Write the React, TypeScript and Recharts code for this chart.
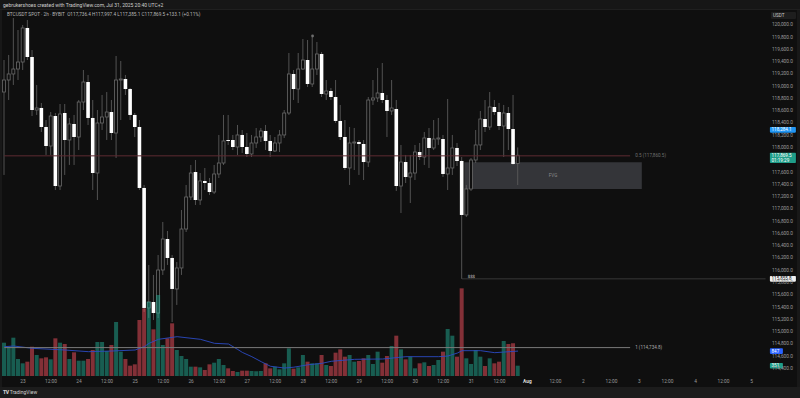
import React from 'react';
import {
  ComposedChart, Bar, Line, XAxis, YAxis, ReferenceLine, ReferenceArea, ReferenceDot, Cell,
} from 'recharts';

// ---- Data (BTCUSDT 2h, first candle Jul 22 16:00) ----
const opens = [
  118901,119097,119195,119276,119390,119945,119472,118608,118641,118331,
  118021,118510,117369,118559,118119,118380,118168,118738,119064,118478,
  117581,118396,118494,118575,118233,119097,119113,118950,118527,118331,
  117337,115381,115478,115299,116000,116505,116196,115691,116033,116668,
  117190,117597,117141,117451,117418,117271,117565,117744,118119,118119,
  118005,118201,118005,117891,118070,118168,118266,118103,117940,118070,
  118201,118559,119195,118950,119276,119423,119032,119276,119521,118869,
  118918,118820,118429,118168,117663,118070,118086,118054,117760,118771,
  118804,118885,118771,118592,118624,117369,117760,117516,117581,117923,
  117842,118152,117989,118135,118135,117565,117663,117989,117777,116897,
  117320,117793,118038,118461,118331,118657,118575,118347,118559,118298,
  117736.4,
];
const closes = [
  119097,119195,119276,119390,119945,119472,118608,118641,118331,118021,
  118510,117369,118543,118119,118380,118168,118738,119064,118478,117581,
  118396,118494,118575,118233,119097,119113,118950,118527,118331,117337,
  115381,115478,115299,116000,116505,116196,115691,116033,116668,117190,
  117581,117141,117451,117418,117271,117565,117744,118103,118103,118005,
  118201,118005,117891,118070,118168,118266,118103,117940,118070,118201,
  118559,119195,118950,119276,119423,119032,119276,119521,118869,118918,
  118820,118429,118168,117663,118070,118086,118054,117760,118771,118804,
  118885,118771,118592,118641,117369,117760,117516,117581,117923,117842,
  118152,117989,118135,118152,117565,117663,117989,117777,116897,117320,
  117793,118038,118461,118331,118657,118575,118347,118559,118298,117728,
  117869.5,
];
const highs = [
  119423,119505,120108,119912,119994,120075,119586,119016,118722,118445,
  118575,118559,118706,118706,118478,118527,118771,119260,119179,118771,
  118608,118853,118901,118771,119488,119407,119179,118967,118559,118445,
  117386,116082,115919,116244,116783,116636,116244,116130,116978,117386,
  117712,117793,117581,117663,117500,117712,118201,118527,118527,118201,
  118364,118282,118233,118201,118315,118315,118364,118201,118168,118282,
  118608,119537,119260,119537,119765,119749,119798,119716,119553,119097,
  118967,119097,118690,118445,118331,118315,118119,118119,118820,119097,
  119293,119374,118853,119097,118771,118038,117875,117875,118038,118070,
  118249,118315,118445,118478,118201,118787,118201,118070,117842,117386,
  117826,118282,118592,118771,118901,118771,118722,118690,118657,118853,
  117997.4,
];
const lows = [
  117549,118771,119016,119097,119260,119423,118510,118527,118249,117875,
  117875,117304,117304,117549,117712,117712,117956,118608,118364,117304,
  117141,118282,118119,118119,117826,118445,118853,118445,118168,117304,
  115316,115218,115185,115218,115919,116082,115152,115430,115919,116619,
  117141,117060,117060,117304,117223,117239,117500,117712,118038,117956,
  117875,117907,117842,117842,117989,118086,117956,117842,117923,117923,
  118152,118527,118771,118722,119260,118983,118983,119179,118820,118771,
  118771,118396,118119,117630,117386,117630,117549,117467,117679,118690,
  118738,118722,118168,118527,117288,116929,117418,117092,117467,117793,
  117712,117663,117956,118038,117516,117304,117549,117695,115855.8,116864,
  117288,117744,117956,118249,118282,118527,118282,117842,117956,117712,
  117385.1,
];
const volumes = [
  1133,997,1303,578,431,487,997,714,601,635,
  567,1281,1133,1088,578,805,521,521,578,884,
  1156,1156,850,1054,1836,827,578,351,397,1904,
  2301,2527,1587,2754,1054,1281,1791,884,680,578,
  317,317,295,204,397,453,578,374,261,170,
  136,181,181,170,160,170,431,261,317,227,
  431,941,249,295,714,487,431,431,714,374,
  340,793,907,657,714,487,510,601,714,408,
  827,453,680,1020,1371,907,567,657,261,431,
  465,340,374,544,827,1598,1371,657,2981,601,
  408,884,657,340,601,431,487,1190,1088,1111,
  351,
];
// Volume moving average, read at sparse candle indexes
const volMaIndex = [0, 2, 6, 13, 18, 23, 28, 30, 31, 33, 37, 42, 45, 48, 50, 51, 53, 55, 57, 60, 62, 65, 68, 70, 75, 81, 86, 93, 95, 97, 98, 102, 105, 110];
const volMaValue = [997, 1020, 941, 884, 827, 850, 884, 1000, 1111, 1247, 1337, 1247, 1111, 1088, 900, 800, 657, 487, 330, 270, 300, 380, 430, 500, 567, 578, 657, 657, 680, 780, 861, 861, 793, 847];

const xTickIndex = [4, 10, 16, 22, 28, 34, 40, 46, 52, 58, 64, 70, 76, 82, 88, 94, 100, 106, 112, 118, 124, 130, 136, 142, 148, 154, 160];
const xTickText = ['23', '12:00', '24', '12:00', '25', '12:00', '26', '12:00', '27', '12:00', '28', '12:00', '29', '12:00', '30', '12:00', '31', '12:00', 'Aug', '12:00', '2', '12:00', '3', '12:00', '4', '12:00', '5'];
const priceTicks = [114400, 114600, 114800, 115000, 115200, 115400, 115600, 115800, 116000, 116200, 116400, 116600, 116800, 117000, 117200, 117400, 117600, 118000, 118200, 118400, 118600, 118800, 119000, 119200, 119400, 119600, 119800, 120000];

const fib05 = 117860.5;
const fib1 = 114734.8;
const sweepLow = 115855.8;
const prevMark = 118284.1;
const fvgTop = 117756;
const fvgBottom = 117320;
const fvgStart = 99;
const fvgEnd = 136;
const swingHighIdx = 66;
const swingHighMark = 119814;
const liqIdx = 100;
const liqPrice = 115886;
const lastVolMa = 847;
const N_SLOTS = 164;

const BG = '#0f0f0f';
const UP_VOL = 'rgba(34,171,148,0.5)';
const DN_VOL = 'rgba(247,82,95,0.5)';
const TIME_LABEL_BASELINE = 382.8;

const rows = Array.from({ length: N_SLOTS }, (_, i) => {
  const has = i < opens.length;
  const k = volMaIndex.indexOf(i);
  return {
    i,
    range: has ? [lows[i], highs[i]] : null,
    o: has ? opens[i] : null,
    c: has ? closes[i] : null,
    h: has ? highs[i] : null,
    l: has ? lows[i] : null,
    v: has ? volumes[i] : null,
    ma: k >= 0 ? volMaValue[k] : null,
  };
});

const fmt = (v: number) => v.toLocaleString('en-US', { minimumFractionDigits: 1, maximumFractionDigits: 1 });

const Candle = (props: any) => {
  const { x, y, width, height, payload } = props;
  if (!payload || payload.o == null || y == null) return <g />;
  const { o, c, h, l } = payload;
  const top = Math.min(y, y + height);
  const hh = Math.abs(height);
  const span = h - l || 1;
  const py = (p: number) => top + ((h - p) / span) * hh;
  const up = c >= o;
  const cx = x + width / 2;
  const bTop = py(Math.max(o, c));
  const bBot = py(Math.min(o, c));
  const bh = Math.max(bBot - bTop, 1);
  return (
    <g>
      <line x1={cx} x2={cx} y1={top} y2={top + hh} stroke="#5a5a5a" strokeWidth={0.9} />
      {up ? (
        <rect x={x + 0.5} y={bTop} width={width - 1} height={bh} fill={BG} stroke="#6a6a6a" strokeWidth={0.8} />
      ) : (
        <rect x={x + 0.2} y={bTop} width={width - 0.4} height={bh} fill="#ffffff" />
      )}
    </g>
  );
};

const XTick = (props: any) => {
  const { x, payload } = props;
  const k = xTickIndex.indexOf(payload.value);
  if (k < 0) return <g />;
  const t = xTickText[k];
  const bold = t === 'Aug';
  return (
    <text x={x} y={TIME_LABEL_BASELINE} textAnchor="middle" fontSize={4.8} fill={bold ? '#dcdcdc' : '#9a9a9a'} fontWeight={bold ? 700 : 400}>
      {t}
    </text>
  );
};

const PriceTag = (props: any) => {
  const { viewBox, text, sub, bg, fg, w } = props;
  if (!viewBox) return <g />;
  const x0 = viewBox.x + viewBox.width + 2;
  const yc = viewBox.y;
  const h = sub ? 10.4 : 5.6;
  const top = sub ? yc - 2.6 : yc - h / 2;
  return (
    <g>
      <rect x={x0} y={top} width={w} height={h} rx={0.8} fill={bg} />
      <text x={x0 + 1.6} y={sub ? yc + 0.2 : yc} dominantBaseline="central" fontSize={4.6} fill={fg}>{text}</text>
      {sub ? (
        <text x={x0 + 1.6} y={yc + 5.1} dominantBaseline="central" fontSize={4.6} fill={fg}>{sub}</text>
      ) : null}
    </g>
  );
};

export default function App() {
  return (
    <div style={{ position: 'fixed', left: 0, top: 0, width: 800, height: 398, background: BG, overflow: 'hidden', fontFamily: 'Roboto, "DejaVu Sans", sans-serif' }}>
      <div style={{ position: 'absolute', left: 0, top: 0, width: 800, height: 10, background: '#161616', borderBottom: '1px solid #1f1f1f', boxSizing: 'border-box' }} />
      <div style={{ position: 'absolute', left: 0, top: 387, width: 800, height: 11, background: '#1c1c1c' }} />
      <div style={{ position: 'absolute', left: 0, top: 10, width: 2, height: 377, background: '#181818' }} />
      <div style={{ position: 'absolute', left: 797, top: 10, width: 3, height: 377, background: '#181818' }} />
      <ComposedChart
        width={800}
        height={398}
        data={rows}
        margin={{ top: 10, right: 0, bottom: 10, left: 2 }}
        barGap={0}
        barCategoryGap={0}
        style={{ position: 'absolute', left: 0, top: 0 }}
      >
        <XAxis xAxisId="x" dataKey="i" type="category" interval={0} tick={<XTick />} tickLine={false} axisLine={false} tickSize={0} tickMargin={0} height={12} />
        <XAxis xAxisId="vx" dataKey="i" type="category" hide />
        <YAxis
          yAxisId="p"
          orientation="right"
          width={32.1}
          domain={[114272, 120238]}
          ticks={priceTicks}
          allowDataOverflow
          tickFormatter={fmt}
          tick={{ fontSize: 4.8, fill: '#9a9a9a' }}
          tickLine={false}
          axisLine={false}
          tickSize={0}
          tickMargin={4}
        />
        <YAxis yAxisId="v" hide domain={[0, 12444]} allowDataOverflow />

        <ReferenceArea
          xAxisId="x"
          yAxisId="p"
          x1={fvgStart}
          x2={fvgEnd}
          y1={fvgBottom}
          y2={fvgTop}
          fill="#787b86"
          fillOpacity={0.36}
          stroke="none"
          label={{ value: 'FVG', fill: '#8a8a8a', fontSize: 4.6 }}
        />

        <Bar xAxisId="x" yAxisId="p" dataKey="range" barSize={4} shape={<Candle />} isAnimationActive={false} />
        <Bar xAxisId="vx" yAxisId="v" dataKey="v" barSize={4} isAnimationActive={false}>
          {rows.map((r) => (
            <Cell key={r.i} fill={r.c != null && r.o != null && r.c >= r.o ? UP_VOL : DN_VOL} />
          ))}
        </Bar>
        <Line xAxisId="vx" yAxisId="v" dataKey="ma" connectNulls dot={false} stroke="#2b4bc4" strokeWidth={0.9} isAnimationActive={false} />

        <ReferenceLine
          xAxisId="x"
          yAxisId="p"
          segment={[{ x: 0, y: fib05 }, { x: 134, y: fib05 }]}
          stroke="#5e2b31"
          strokeWidth={1}
          label={{ value: '0.5 (117,860.5)', position: 'right', fill: '#6f6f6f', fontSize: 4.6 }}
        />
        <ReferenceLine
          xAxisId="x"
          yAxisId="p"
          segment={[{ x: 0, y: fib1 }, { x: 134, y: fib1 }]}
          stroke="#7a7a7a"
          strokeWidth={1}
          label={{ value: '1 (114,734.8)', position: 'right', fill: '#a8a8a8', fontSize: 4.6 }}
        />
        <ReferenceLine
          xAxisId="x"
          yAxisId="p"
          segment={[{ x: 98, y: sweepLow }, { x: 163, y: sweepLow }]}
          stroke="#d8d8d8"
          strokeOpacity={0.25}
          strokeWidth={0.8}
        />
        <ReferenceDot xAxisId="x" yAxisId="p" x={swingHighIdx} y={swingHighMark} r={1.4} fill="#6e6e6e" stroke="none" />
        <ReferenceDot
          xAxisId="x"
          yAxisId="p"
          x={liqIdx}
          y={liqPrice}
          r={0}
          stroke="none"
          fill="none"
          label={{ value: '$$$', fill: '#d8d8d8', fontSize: 4.2 }}
        />

        <ReferenceLine xAxisId="x" yAxisId="p" y={prevMark} stroke="none" label={<PriceTag text={fmt(prevMark)} bg="#2196f3" fg="#ffffff" w={26} />} />
        <ReferenceLine xAxisId="x" yAxisId="p" y={closes[closes.length - 1]} stroke="none" label={<PriceTag text={fmt(closes[closes.length - 1])} sub="01:19:29" bg="#1f9e89" fg="#ffffff" w={26} />} />
        <ReferenceLine xAxisId="x" yAxisId="p" y={sweepLow} stroke="none" label={<PriceTag text={fmt(sweepLow)} bg="#f0f0f0" fg="#111111" w={26} />} />
        <ReferenceLine xAxisId="vx" yAxisId="v" y={lastVolMa} stroke="none" label={<PriceTag text={String(lastVolMa)} bg="#2962ff" fg="#ffffff" w={13} />} />
        <ReferenceLine xAxisId="vx" yAxisId="v" y={volumes[volumes.length - 1]} stroke="none" label={<PriceTag text={String(volumes[volumes.length - 1])} bg="#1f9e89" fg="#ffffff" w={13} />} />
      </ComposedChart>

      <div style={{ position: 'absolute', left: 3, top: 1.5, fontSize: 5, lineHeight: '6px', color: '#cfcfcf', whiteSpace: 'nowrap' }}>
        gebrukershoes created with TradingView.com, Jul 31, 2025 20:40 UTC+2
      </div>
      <div style={{ position: 'absolute', left: 7, top: 12.3, fontSize: 4.7, lineHeight: '6px', color: '#b8b8b8', whiteSpace: 'nowrap' }}>
        BTCUSDT SPOT · 2h · BYBIT&nbsp; O117,736.4 H117,997.4 L117,385.1 C117,869.5 +133.1 (+0.11%)
      </div>
      <div style={{ position: 'absolute', left: 771, top: 11.5, width: 25, height: 7, background: '#1e1e1e', borderRadius: 1, fontSize: 4.6, lineHeight: '7px', color: '#c8c8c8', paddingLeft: 2, boxSizing: 'border-box' }}>
        USDT
      </div>
      <div style={{ position: 'absolute', left: 3, top: 389, fontSize: 5, lineHeight: '7px', color: '#cfcfcf', whiteSpace: 'nowrap' }}>
        <span style={{ fontWeight: 900, letterSpacing: -0.5 }}>TV</span> TradingView
      </div>
    </div>
  );
}
